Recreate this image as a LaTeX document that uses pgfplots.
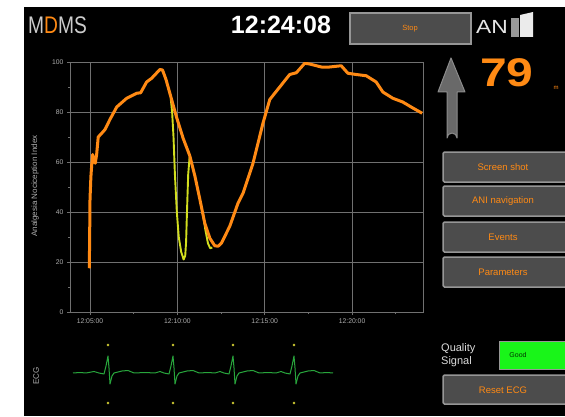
\documentclass[border=0pt]{standalone}
\usepackage{pgfplots}
\pgfplotsset{compat=1.18}
\usepackage{fontspec}
\setmainfont{Liberation Sans}
\definecolor{ani}{RGB}{255,138,20}
\definecolor{yel}{RGB}{210,222,30}
\definecolor{gridc}{RGB}{112,112,112}
\definecolor{lbl}{RGB}{175,175,175}
\definecolor{btn}{RGB}{76,76,76}
\definecolor{btnb}{RGB}{150,150,150}
\definecolor{ecg}{RGB}{40,165,60}
\definecolor{dotc}{RGB}{205,200,50}
\definecolor{good}{RGB}{25,245,25}
\definecolor{arr}{RGB}{105,105,105}
\begin{document}
\begin{tikzpicture}
\useasboundingbox (0,0) rectangle (565pt,416pt);
\fill[white] (0,0) rectangle (565pt,416pt);
\fill[black] (24pt,0) rectangle (565pt,409pt);

\begin{axis}[
  at={(70pt,104pt)}, anchor=south west,
  scale only axis, width=353pt, height=250pt,
  xmin=3.855, xmax=24.06, ymin=0, ymax=100,
  axis line style={gridc, line width=1pt},
  xtick={5,10,15,20}, xticklabels={12:05:00,12:10:00,12:15:00,12:20:00},
  minor xtick={7.5,12.5,17.5,22.5},
  ytick={0,20,...,100}, minor ytick={10,30,...,90},
  tick pos=left, tick align=outside,
  major tick length=3pt, minor tick length=2pt,
  every tick/.style={gridc, line width=0.8pt},
  xmajorgrids, ymajorgrids, major grid style={gridc, line width=1pt},
  tick label style={lbl, font=\fontsize{6.8}{7}\selectfont},
  /pgf/number format/assume math mode=true,
]
\addplot[yel, line width=1.9pt, line join=round] coordinates {
(9.62,85.5)(9.70,80)(9.78,70)(9.86,55)(9.97,40)(10.08,30)(10.22,24)(10.36,21)
(10.45,22.5)(10.50,28)(10.55,40)(10.62,55)(10.70,62)
};
\addplot[yel, line width=1.9pt, line join=round] coordinates {
(11.45,40)(11.60,33)(11.75,27.5)(11.88,25.5)(12.00,25.8)
};
\addplot[ani, line width=3pt, line join=round] coordinates {
(4.96,17.5)(4.98,30)(5.00,45)(5.05,54)(5.10,59)(5.15,63)(5.22,61)(5.30,59.5)
(5.38,63)(5.47,70)(5.67,71.5)(5.86,73)(6.14,77)(6.53,82)(7.10,85.5)(7.67,87.5)
(7.90,87.7)(8.24,92)(8.53,93.5)(9.00,97)(9.15,96.8)(9.35,93)(9.57,87.5)(9.95,78)
(10.33,69.5)(10.71,62.5)(11.00,54.5)(11.29,45)(11.57,35.5)(11.86,29.5)(12.14,26.5)
(12.33,26.3)(12.52,27.5)(13.00,34.3)(13.47,43.5)(13.76,47.5)(14.33,59.5)(14.90,75.5)
(15.29,85)(15.86,90)(16.43,95)(16.81,95.7)(17.29,99.5)(17.57,99.2)(18.24,98)
(18.71,98)(19.38,98.5)(19.76,95.5)(20.24,95)(20.81,94.5)(21.38,92)(21.76,88)
(22.33,85.5)(22.90,84)(23.38,82)(24.01,79.5)
};
\end{axis}

\begin{axis}[
  at={(60pt,6pt)}, anchor=south west,
  scale only axis, width=280pt, height=70pt,
  xmin=60, xmax=340, ymin=-37, ymax=33, hide axis, clip=false,
]
\addplot[ecg, line width=1pt, line join=round] coordinates {
(73,0)(80,0.5)(86,0)(94,1.5)(99,0)(104,-1)(106,7)(108,17)(109,5)(110,-11)(112,-3)(114,0)
(122,2)(128,2.5)(134,0)(145,0.5)(155,0)(160,1.5)(164,0)(169,-1)(171,7)(173,17)(174,5)
(175,-11)(177,-3)(179,0)(187,2)(193,2.5)(199,0)(208,0.5)(215,0)(220,1.5)(224,0)(229,-1)
(231,7)(233,17)(234,5)(235,-11)(237,-3)(239,0)(247,2)(253,2.5)(259,0)(268,0.5)(276,0)
(281,1.5)(285,0)(290,-1)(292,7)(294,17)(295,5)(296,-11)(298,-3)(300,0)(308,2)(314,2.5)
(320,0)(327,0.5)(333,0)
};
\addplot[only marks, mark=*, mark size=1.1pt, dotc] coordinates {
(108,28)(173,28)(233,28)(294,28)(108,-30)(173,-30)(233,-30)(294,-30)
};
\end{axis}

\begin{scope}[x=1pt,y=-1pt,yshift=416pt]
  % header
  \node[anchor=west, inner sep=0, text=white!80!black, font=\fontsize{24}{24}\selectfont, xscale=0.8] at (28,25) {M{\color{ani}D}MS};
  \node[text=white, font=\bfseries\fontsize{25}{25}\selectfont] at (281,25) {12:24:08};
  \draw[btnb, fill=btn, line width=1.5pt] (350,13) rectangle (471,44);
  \node[text=ani, font=\fontsize{7.5}{7.5}\selectfont] at (410,29) {Stop};
  \node[anchor=west, inner sep=0, text=white!90!black, font=\fontsize{19}{19}\selectfont, xscale=1.2] at (476,27) {AN};
  \fill[white!60!black] (511,18) rectangle (519,37);
  \fill[white!92!black] (520,15) -- (533,12) -- (533,37) -- (520,37) -- cycle;
  % y label
  \node[text=lbl, rotate=90, font=\fontsize{8}{8}\selectfont] at (35,186) {Analgesia Nociception Index};
  % arrow
  \draw[white!55!black, fill=arr, line width=1pt, line join=round]
    (451,58) -- (465,92) -- (457,92) -- (457,138) arc[start angle=0, end angle=-180, radius=5] -- (447,92) -- (438,92) -- cycle;
  % value
  \node[text=ani, font=\bfseries\fontsize{40}{40}\selectfont, xscale=1.2] at (507,73) {79};
  \node[text=ani, font=\fontsize{6}{6}\selectfont] at (556,88) {m};
  % buttons
  \foreach \yy/\tt in {152/Screen shot,186/ANI navigation,222/Events,257/Parameters}{
    \draw[btnb, fill=btn, line width=1.5pt, rounded corners=1.5pt] (443,\yy) rectangle (575,\yy+30);
    \node[text=ani, font=\fontsize{9.5}{9.5}\selectfont] at (503,\yy+15) {\tt};
  }
  % ECG label
  \node[text=lbl, rotate=90, font=\fontsize{8}{8}\selectfont] at (36,376) {ECG};
  % quality
  \node[text=white!86!black, align=left, anchor=west, font=\fontsize{11}{13}\selectfont, inner sep=0] at (441,355) {Quality\\Signal};
  \draw[btnb, fill=good, line width=1pt] (499,341) rectangle (575,369);
  \node[text=black!80!green, font=\fontsize{7}{7}\selectfont] at (518,355) {Good};
  \draw[btnb, fill=btn, line width=1.5pt, rounded corners=1.5pt] (443,375) rectangle (575,404);
  \node[text=ani, font=\fontsize{9.5}{9.5}\selectfont] at (503,390) {Reset ECG};
\end{scope}
\end{tikzpicture}
\end{document}
